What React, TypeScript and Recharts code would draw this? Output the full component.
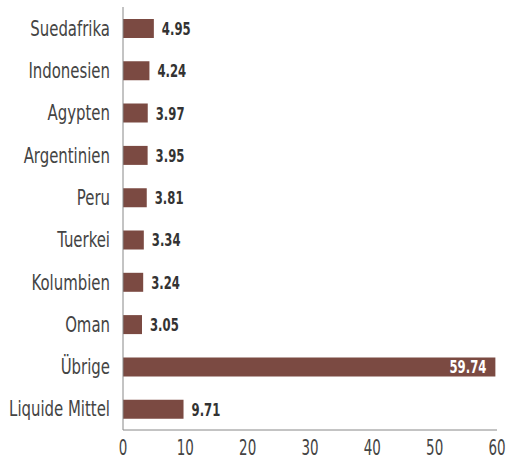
import React from "react";
import { BarChart, Bar, XAxis, YAxis, LabelList } from "recharts";

const categories = ["Suedafrika", "Indonesien", "Agypten", "Argentinien", "Peru", "Tuerkei", "Kolumbien", "Oman", "Übrige", "Liquide Mittel"];
const values = [4.95, 4.24, 3.97, 3.95, 3.81, 3.34, 3.24, 3.05, 59.74, 9.71];
const xTicks = [0, 10, 20, 30, 40, 50, 60];

const data = categories.map((name, i) => ({ name, value: values[i] }));

const FONT = "'DejaVu Sans Condensed', 'DejaVu Sans', sans-serif";

const renderLabel = (props: any) => {
  const { x, y, width, height, value } = props;
  const inside = value > 50;
  const text = Number(value).toFixed(2);
  const tx = inside ? x + width - 9 : x + width + 8;
  return (
    <g transform={`translate(${tx},${y + height / 2}) scale(0.72,1)`}>
      <text
        x={0}
        y={0}
        dy="0.36em"
        textAnchor={inside ? "end" : "start"}
        fill={inside ? "#ffffff" : "#333333"}
        fontWeight="bold"
        fontSize={18}
        fontFamily={FONT}
      >
        {text}
      </text>
    </g>
  );
};

const YTick = (props: any) => {
  const { x, y, payload } = props;
  return (
    <g transform={`translate(${x},${y}) scale(0.79,1)`}>
      <text x={0} y={0} dy="0.36em" textAnchor="end" fill="#444444" fontSize={21} fontFamily={FONT}>
        {payload.value}
      </text>
    </g>
  );
};

const XTick = (props: any) => {
  const { x, y, payload } = props;
  return (
    <g transform={`translate(${x},${y}) scale(0.68,1)`}>
      <text x={0} y={0} dy="0.72em" textAnchor="middle" fill="#444444" fontSize={22} fontFamily={FONT}>
        {payload.value}
      </text>
    </g>
  );
};

export default function App() {
  return (
    <div style={{ position: "absolute", left: 0, top: 0, background: "#fff" }}>
      <BarChart
        width={513}
        height={459}
        data={data}
        layout="vertical"
        margin={{ top: 7, right: 16, bottom: 0, left: 0 }}
        barCategoryGap={0}
      >
        <XAxis
          type="number"
          domain={[0, 60]}
          ticks={xTicks}
          tickLine={false}
          axisLine={{ stroke: "#888888" }}
          tick={<XTick />}
          height={29}
          tickMargin={3}
        />
        <YAxis
          type="category"
          dataKey="name"
          width={123}
          tickLine={false}
          axisLine={{ stroke: "#888888" }}
          tick={<YTick />}
          tickMargin={7}
        />
        <Bar dataKey="value" fill="#7b4a42" barSize={19} isAnimationActive={false}>
          <LabelList dataKey="value" content={renderLabel} />
        </Bar>
      </BarChart>
    </div>
  );
}
